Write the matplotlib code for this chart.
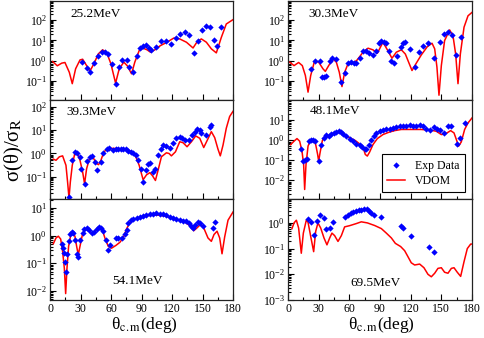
import numpy as np
import matplotlib.pyplot as plt
from matplotlib.ticker import LogLocator, MultipleLocator, NullFormatter

plt.rcParams['font.family'] = ['Liberation Serif', 'DejaVu Serif']
plt.rcParams['mathtext.fontset'] = 'stix'

# ---- 25.2 MeV ----
ang_exp_25 = [31.7, 36.0, 39.3, 43.2, 47.4, 50.7, 54.0, 57.3, 60.5, 64.5, 68.1, 71.3, 75.3, 77.9,
              81.2, 85.1, 88.4, 91.6, 94.2, 96.9, 99.8, 104.1, 109.6, 114.5, 119.4, 123.7, 128.3,
              132.5, 136.8, 141.4, 145.6, 149.5, 153.8, 157.1, 161.3, 164.6, 168.5]
exp_25 = [0.89, 0.42, 0.26, 0.76, 1.6, 2.6, 2.6, 2.0, 0.69, 0.071, 0.50, 1.12, 1.12, 0.50,
          0.26, 1.6, 4.1, 5.5, 6.2, 4.1, 3.5, 4.9, 9.8, 9.8, 6.6, 12.6, 21,
          27, 18.6, 2.4, 9.1, 33, 54, 45, 11, 5.1, 45]
ang_th_25 = [2.6, 7.2, 11.5, 14.7, 19.0, 21.9, 25.2, 29.5, 32.1, 36.0, 39.3, 43.2, 47.4, 51.7,
             55.6, 59.9, 64.5, 68.1, 72.6, 75.9, 80.2, 83.4, 87.7, 91.6, 95.5, 98.8, 103.1,
             108.6, 114.5, 121.7, 127.6, 134.2, 140.7, 145.0, 148.9, 153.8, 158.7, 163.6,
             168.5, 173.4, 180]
vdom_25 = [0.89, 0.55, 0.74, 0.80, 0.26, 0.071, 0.39, 1.07, 1.16, 0.56, 0.30, 0.69, 2.1, 3.4,
           2.6, 0.69, 0.076, 0.39, 0.83, 0.56, 0.22, 0.83, 3.1, 4.1, 3.4, 2.6, 3.4,
           5.5, 7.8, 13, 11.8, 8.1, 4.2, 9.0, 11.8, 8.1, 3.8, 2.4,
           14, 65, 107]

# ---- 30.3 MeV ----
ang_exp_30 = [22.2, 26.1, 31.0, 33.6, 35.2, 37.5, 40.8, 43.0, 46.6, 51.5, 55.4, 58.7, 61.3, 64.6,
              66.8, 70.1, 73.4, 76.0, 78.9, 83.1, 86.4, 89.0, 91.3, 93.9, 96.2, 98.8, 101.1,
              103.7, 106.9, 110.2, 112.5, 114.8, 119.0, 123.9, 127.8, 132.1, 136.9, 142.8,
              149.0, 152.6, 156.5, 160.4, 164.6, 168.9]
exp_30 = [0.39, 1.0, 0.93, 0.15, 0.16, 0.18, 0.93, 1.35, 1.2, 0.091, 0.24, 0.74, 0.83, 0.77,
          0.74, 1.35, 2.9, 2.9, 2.3, 1.9, 3.1, 7.2, 9.1, 8.1, 7.2, 3.1, 0.93,
          0.74, 1.6, 4.9, 7.2, 8.1, 3.8, 0.47, 2.8, 5.5, 7.2, 1.35,
          8.1, 21, 27, 18.6, 1.8, 15.4]
ang_th_30 = [1.6, 5.9, 10.4, 14.0, 17.0, 19.6, 22.2, 26.1, 30.0, 34.2, 36.5, 39.8, 44.0, 47.3,
             50.2, 52.8, 55.4, 58.7, 63.6, 67.8, 73.4, 78.3, 83.1, 87.4, 92.9, 97.2, 101.7,
             106.0, 110.9, 114.8, 118.0, 121.3, 125.5, 130.4, 136.3, 140.9, 143.5, 145.7,
             147.7, 150.0, 153.2, 158.1, 161.4, 164.0, 166.3, 168.6, 172.2, 176.1, 180]
vdom_30 = [0.83, 0.56, 0.80, 0.56, 0.18, 0.027, 0.18, 1.0, 0.83, 0.39, 0.29, 0.56, 1.2, 0.83,
           0.26, 0.051, 0.26, 0.69, 0.74, 1.08, 2.6, 4.1, 3.4, 2.3, 8.1, 3.4, 1.3,
           2.6, 3.4, 2.1, 0.83, 0.32, 0.74, 1.9, 4.9, 7.2, 3.8, 0.47,
           0.019, 0.56, 9.8, 33, 17, 2.1, 0.071, 2.1, 45, 166, 245]

# ---- 39.3 MeV ----
ang_exp_39 = [18.7, 21.9, 24.5, 26.8, 29.5, 30.4, 34.4, 36.6, 39.3, 40.9, 44.2, 46.5, 49.7, 52.4,
              55.6, 58.2, 62.2, 64.8, 67.1, 69.4, 72.0, 74.3, 76.9, 79.5, 81.8, 84.4, 86.7,
              89.3, 91.6, 94.2, 96.5, 98.8, 101.4, 103.1, 106.3, 109.6, 111.3, 114.5, 117.8,
              121.1, 124.3, 127.6, 130.2, 132.5, 136.8, 140.1, 142.3, 145.0, 147.3, 148.9,
              153.1, 157.1, 158.7]
exp_39 = [0.014, 0.51, 1.18, 1.0, 0.72, 0.21, 0.05, 0.46, 0.72, 0.79, 0.43, 0.20, 0.43, 1.1,
          1.5, 1.8, 1.4, 1.5, 1.5, 1.5, 1.5, 1.5, 1.3, 1.2, 1.0, 0.85, 0.55,
          0.22, 0.059, 0.20, 0.37, 0.39, 0.16, 0.22, 0.85, 1.5, 2.3, 2.2, 1.8,
          2.7, 4.8, 5.3, 4.8, 3.8, 3.8, 6.3, 8.2, 11.4, 10.3, 7.9,
          6.3, 14.4, 17]
ang_th_39 = [3.3, 5.9, 9.2, 12.4, 15.7, 17.3, 18.7, 20.0, 21.9, 24.5, 26.8, 29.5, 32.1, 34.0,
             36.0, 39.3, 42.5, 45.8, 47.8, 50.1, 53.0, 57.3, 63.8, 70.4, 75.9, 80.2, 84.4,
             87.7, 91.6, 94.9, 98.2, 100.8, 103.7, 106.3, 109.6, 114.5, 117.1, 119.4, 123.4,
             127.6, 130.9, 134.8, 139.1, 143.3, 147.3, 151.2, 154.8, 158.7, 162.0, 165.2,
             167.5, 170.2, 173.4, 176.7, 180]
vdom_39 = [0.57, 0.51, 0.72, 0.79, 0.31, 0.059, 0.012, 0.059, 0.31, 1.07, 1.07, 0.51, 0.16, 0.05,
           0.22, 0.72, 0.65, 0.37, 0.33, 0.51, 1.18, 1.65, 1.65, 1.55, 1.5, 1.18, 0.72,
           0.31, 0.074, 0.12, 0.15, 0.11, 0.069, 0.19, 0.72, 1.07, 1.0, 0.79, 1.18,
           3.2, 2.9, 1.95, 3.2, 5.7, 4.5, 1.8, 3.8, 8.7, 4.8, 1.55,
           0.79, 2.3, 12.2, 39, 65]

# ---- 48.1 MeV ----
ang_exp_48 = [12.4, 14.7, 17.0, 18.9, 20.2, 22.2, 24.5, 26.7, 30.0, 32.6, 35.2, 37.5, 39.8, 42.4,
              44.7, 47.3, 49.6, 51.5, 53.8, 57.1, 60.3, 63.6, 66.8, 70.1, 72.7, 75.0, 76.6,
              78.9, 81.5, 84.1, 86.4, 89.7, 92.9, 96.2, 99.4, 102.7, 106.0, 109.2, 112.5,
              115.7, 119.0, 122.3, 125.5, 128.8, 132.1, 135.3, 138.6, 142.8, 146.1, 148.4,
              152.6, 156.5, 159.8, 165.6, 168.6, 172.8]
exp_48 = [0.32, 0.083, 0.10, 0.11, 0.83, 1.0, 1.0, 0.83, 0.089, 0.56, 1.2, 1.65, 1.47, 1.9,
          2.15, 2.4, 2.6, 2.4, 1.9, 1.47, 1.12, 0.83, 0.61, 0.56, 0.41, 0.34, 0.35,
          0.56, 1.0, 1.47, 2.15, 2.6, 2.9, 3.2, 3.55, 3.8, 4.1, 4.6, 4.6,
          5.0, 5.2, 5.0, 4.6, 5.6, 4.6, 3.55, 2.9, 4.1, 3.4, 2.9,
          2.15, 4.6, 4.6, 0.61, 1.2, 6.8]
ang_th_48 = [2.6, 5.9, 8.8, 11.4, 13.7, 15.3, 16.3, 17.6, 19.6, 22.2, 24.8, 27.1, 29.0, 30.0,
             31.3, 33.6, 36.5, 39.1, 41.7, 45.0, 47.9, 50.5, 53.8, 57.7, 62.0, 65.9, 70.1,
             73.4, 75.6, 77.6, 79.9, 83.1, 87.4, 92.9, 98.5, 104.3, 110.9, 120.6, 130.4,
             140.2, 145.1, 150.0, 153.9, 159.1, 162.4, 164.7, 166.9, 169.5, 172.8, 176.1, 180]
vdom_48 = [0.56, 0.83, 1.12, 0.83, 0.26, 0.056, 0.0032, 0.056, 0.47, 1.0, 1.0, 0.56, 0.18, 0.083,
           0.21, 0.89, 1.65, 1.3, 1.65, 2.2, 2.0, 2.6, 2.15, 1.47, 1.12, 0.89, 0.61,
           0.41, 0.18, 0.15, 0.24, 0.56, 1.12, 1.78, 2.3, 2.8, 3.2, 3.2, 3.2,
           2.9, 2.6, 1.78, 1.9, 2.8, 2.15, 1.0, 0.47, 0.76, 3.2, 6.8, 12]

# ---- 54.1 MeV ----
ang_exp_54 = [11.5, 13.1, 14.1, 15.1, 16.0, 17.0, 18.3, 19.6, 21.3, 22.9, 24.5, 26.2, 27.8, 29.5,
              32.1, 33.7, 36.0, 38.3, 40.9, 43.5, 45.8, 48.1, 50.1, 52.4, 54.6, 56.6, 58.9,
              64.8, 67.1, 70.4, 73.6, 75.3, 76.9, 79.2, 81.8, 85.1, 88.4, 91.6, 94.9, 98.2,
              101.4, 104.7, 108.0, 111.3, 114.5, 117.8, 121.1, 124.3, 127.6, 130.9, 134.2,
              136.8, 139.1, 140.7, 143.0, 145.6, 147.9, 150.5, 160.3, 162.0]
exp_54 = [0.5, 0.37, 0.23, 0.115, 0.05, 0.22, 0.62, 1.1, 1.3, 1.25, 0.71, 0.22, 0.17, 0.71,
          1.25, 1.75, 1.9, 1.65, 1.25, 1.3, 1.75, 2.1, 1.9, 1.45, 0.71, 0.31, 0.47,
          0.82, 0.82, 0.82, 1.1, 1.65, 2.9, 3.6, 4.1, 4.4, 4.8, 5.1, 5.4, 5.9,
          6.2, 6.4, 6.2, 5.9, 5.4, 4.8, 4.4, 4.1, 3.6, 3.3, 3.3,
          2.9, 2.3, 1.9, 2.5, 3.1, 2.9, 2.3, 1.9, 3.1]
ang_th_54 = [3.3, 5.9, 8.2, 10.5, 12.4, 14.1, 15.4, 16.7, 18.3, 20.3, 22.3, 24.5, 26.2, 27.8,
             29.5, 32.1, 34.7, 37.6, 40.2, 42.9, 45.8, 49.1, 51.4, 54.0, 57.3, 60.5, 64.8,
             68.7, 72.0, 75.3, 78.5, 83.4, 90.0, 98.2, 106.3, 112.9, 119.4, 126.0, 132.5,
             137.4, 141.4, 144.6, 147.9, 151.2, 155.4, 158.7, 161.3, 164.3, 166.9, 169.2,
             171.8, 175.1, 180]
vdom_54 = [0.51, 0.82, 0.95, 0.75, 0.27, 0.066, 0.008, 0.066, 0.41, 1.0, 1.25, 0.95, 0.41, 0.2,
           0.41, 1.18, 1.75, 1.65, 1.18, 1.25, 1.75, 2.1, 1.65, 0.82, 0.41, 0.35, 0.44,
           0.57, 0.82, 1.75, 2.9, 3.9, 4.7, 5.4, 5.5, 5.1, 4.3, 3.6, 3.1,
           2.3, 1.5, 1.9, 2.5, 1.9, 0.82, 0.62, 1.09, 1.44, 0.82, 0.22,
           0.89, 3.6, 7.1]

# ---- 69.5 MeV ----
ang_exp_69 = [19.6, 22.8, 25.4, 28.7, 31.6, 34.9, 37.5, 40.8, 44.0, 56.1, 58.7, 61.3, 63.9, 66.5,
              69.1, 71.7, 74.3, 76.9, 79.2, 81.5, 84.1, 90.6, 110.9, 112.5, 120.6, 137.9, 142.5]
exp_69 = [1.44, 1.06, 0.33, 1.16, 2.1, 1.5, 0.6, 0.63, 1.06, 1.7, 2.1, 2.5, 2.6, 2.9,
          3.1, 3.2, 3.4, 3.4, 2.9, 2.5, 2.1, 1.67, 0.74, 0.63, 0.32, 0.12, 0.072]
ang_th_69 = [3.9, 5.9, 8.2, 10.4, 13.0, 15.0, 17.9, 19.6, 22.2, 25.1, 27.1, 29.3, 32.0, 35.2,
             38.1, 40.8, 43.0, 45.6, 48.9, 52.2, 55.4, 60.3, 66.8, 71.7, 77.6, 84.8, 91.3,
             96.2, 101.1, 105.0, 110.2, 114.1, 117.4, 120.6, 123.9, 128.8, 133.0, 136.9,
             140.2, 143.5, 146.7, 150.0, 153.2, 156.5, 159.8, 162.4, 165.6, 168.9, 172.2,
             175.4, 178.7, 180]
vdom_69 = [0.6, 1.0, 1.27, 0.63, 0.066, 0.4, 1.27, 1.06, 0.3, 0.076, 0.47, 1.0, 0.63, 0.26,
           0.14, 0.26, 0.4, 0.32, 0.19, 0.32, 0.7, 0.78, 0.94, 1.1, 1.0, 0.79, 0.6,
           0.4, 0.26, 0.16, 0.12, 0.083, 0.048, 0.028, 0.023, 0.025, 0.018, 0.01,
           0.008, 0.011, 0.017, 0.018, 0.012, 0.011, 0.017, 0.018, 0.012, 0.0083, 0.031,
           0.1, 0.15, 0.15]

labels = ['25.2MeV', '30.3MeV', '39.3MeV', '48.1MeV', '54.1MeV', '69.5MeV']
x_ticks = [0, 30, 60, 90, 120, 150, 180]

W, H = 484, 338
fig = plt.figure(figsize=(W / 100, H / 100), dpi=100)


def box(x0, x1, y0, y1):
    return [x0 / W, 1 - y1 / H, (x1 - x0) / W, (y1 - y0) / H]


panels = [
    (box(50, 233, 1, 100), ang_exp_25, exp_25, ang_th_25, vdom_25, (1.1e-2, 9e2), (0.11, 0.87)),
    (box(288, 472, 1, 100), ang_exp_30, exp_30, ang_th_30, vdom_30, (1.1e-2, 9e2), (0.11, 0.87)),
    (box(50, 233, 100, 199), ang_exp_39, exp_39, ang_th_39, vdom_39, (1.1e-2, 2e2), (0.09, 0.88)),
    (box(288, 472, 100, 199), ang_exp_48, exp_48, ang_th_48, vdom_48, (1.07e-3, 9.5e1), (0.12, 0.89)),
    (box(50, 233, 199, 300), ang_exp_54, exp_54, ang_th_54, vdom_54, (4.7e-3, 2.1e1), (0.34, 0.19)),
    (box(288, 472, 199, 300), ang_exp_69, exp_69, ang_th_69, vdom_69, (1e-3, 8.5), (0.34, 0.17)),
]

axes = []
for i, (pos, xe, ye, xt, yt, ylim, lab) in enumerate(panels):
    ax = fig.add_axes(pos)
    ax.plot(xt, yt, color='red', lw=1.1, label='VDOM', zorder=2)
    ax.plot(xe, ye, ls='none', marker='D', ms=3.2, color='blue', mew=0,
            label='Exp Data', zorder=3)
    ax.set_yscale('log')
    ax.set_xlim(0, 180)
    ax.set_ylim(*ylim)
    ax.set_xticks(x_ticks)
    ax.xaxis.set_minor_locator(MultipleLocator(15))
    ax.yaxis.set_major_locator(LogLocator(base=10, numticks=20))
    ax.yaxis.set_minor_locator(LogLocator(base=10, subs=np.arange(2, 10), numticks=20))
    ax.yaxis.set_minor_formatter(NullFormatter())
    ax.tick_params(which='both', direction='in', top=False, right=False,
                   labelsize=8.5, width=0.8, pad=2)
    ax.tick_params(which='major', length=4)
    ax.tick_params(which='minor', length=2)
    for s in ax.spines.values():
        s.set_linewidth(0.9)
        s.set_color('#222222')
    if i < 4:
        ax.tick_params(labelbottom=False)
    ax.text(lab[0], lab[1], labels[i], transform=ax.transAxes, fontsize=9.5,
            ha='left', va='center')
    axes.append(ax)

leg = axes[3].legend(handles=axes[3].get_lines()[::-1], loc='lower right',
                     bbox_to_anchor=(0.962, 0.07), borderaxespad=0, fontsize=8.5,
                     fancybox=False, framealpha=1, handlelength=1.5,
                     handletextpad=0.9, labelspacing=0.25, borderpad=0.45)
leg.get_frame().set_edgecolor('black')
leg.get_frame().set_linewidth(0.8)

fig.text(14 / W, 1 - 150 / H, r'σ(θ)/σ$_{\rm R}$', rotation=90, ha='center', va='center',
         fontsize=15)
fig.text(144 / W, 1 - 329 / H, r'θ$_{\rm c.m}$(deg)', ha='center', va='baseline', fontsize=12.5)
fig.text(381 / W, 1 - 329 / H, r'θ$_{\rm c.m}$(deg)', ha='center', va='baseline', fontsize=12.5)

fig.savefig('out.png', dpi=100)
